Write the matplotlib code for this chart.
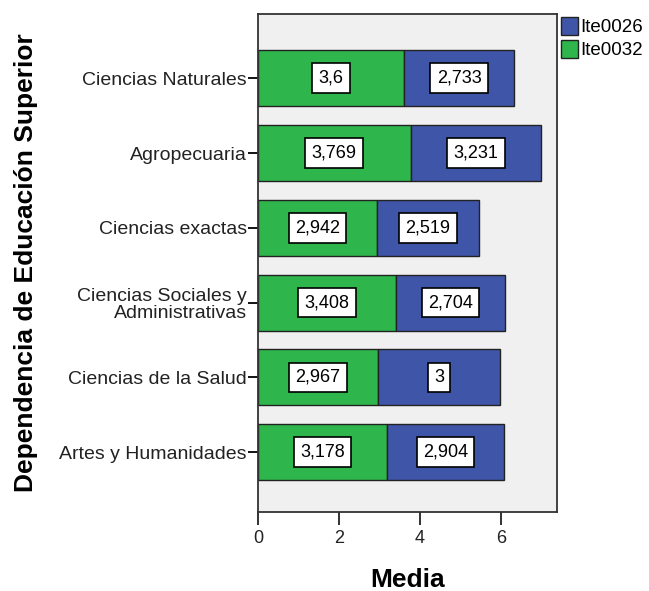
import matplotlib
matplotlib.use("Agg")
import matplotlib.pyplot as plt
from matplotlib.patches import Patch

# data (bottom to top)
categories = [
    "Artes y Humanidades",
    "Ciencias de la Salud",
    "Ciencias Sociales y\nAdministrativas",
    "Ciencias exactas",
    "Agropecuaria",
    "Ciencias Naturales",
]
ite0032 = [3.178, 2.967, 3.408, 2.942, 3.769, 3.6]
ite0026 = [2.904, 3.0, 2.704, 2.519, 3.231, 2.733]

GREEN = "#2eb54b"
BLUE = "#3f56a8"

plt.rcParams["font.family"] = ["Liberation Sans", "DejaVu Sans"]


def fmt(v):
    s = f"{v:.3f}".rstrip("0").rstrip(".")
    return s.replace(".", ",")


fig = plt.figure(figsize=(6.49, 5.91), dpi=100)
ax = fig.add_axes([0.3975, 0.1337, 0.4605, 0.8426])
ax.set_facecolor("#f0f0f0")

y = list(range(len(categories)))
ax.barh(y, ite0032, height=0.75, color=GREEN, edgecolor="#222222", linewidth=1.0)
ax.barh(y, ite0026, left=ite0032, height=0.75, color=BLUE, edgecolor="#222222", linewidth=1.0)

box = dict(boxstyle="square,pad=0.35", facecolor="white", edgecolor="black", linewidth=1.2)
for yi, a, b in zip(y, ite0032, ite0026):
    ax.text(a / 2, yi, fmt(a), ha="center", va="center", fontsize=13, bbox=box)
    ax.text(a + b / 2, yi, fmt(b), ha="center", va="center", fontsize=13, bbox=box)

ax.set_xlim(0, 7.38)
ax.set_ylim(-0.8, 5.86)
ax.set_xticks([0, 2, 4, 6])
ax.set_yticks(y)
ax.set_yticklabels(categories, fontsize=14, color="#222222", linespacing=1.05)
ax.tick_params(axis="x", labelsize=13, length=9, width=1.3, colors="#222222", pad=4)
ax.tick_params(axis="y", length=7, width=1.3, pad=1)
for sp in ax.spines.values():
    sp.set_linewidth(1.3)
    sp.set_color("#333333")

ax.set_xlabel("Media", fontsize=19, fontweight="bold", va="center")
ax.xaxis.set_label_coords(0.5, -0.137)
ax.set_ylabel("Dependencia de Educación Superior", fontsize=19, fontweight="bold", va="center")
ax.yaxis.set_label_coords(-0.776, 0.5)

handles = [
    Patch(facecolor=BLUE, edgecolor="#222222", label="Ite0026"),
    Patch(facecolor=GREEN, edgecolor="#222222", label="Ite0032"),
]
fig.legend(handles=handles, loc="upper left", bbox_to_anchor=(0.864, 0.972),
           frameon=False, fontsize=13.5, handlelength=0.9, handleheight=1.1,
           handletextpad=0.15, labelspacing=0.2, borderaxespad=0, borderpad=0)

fig.savefig("out.png", dpi=100)
